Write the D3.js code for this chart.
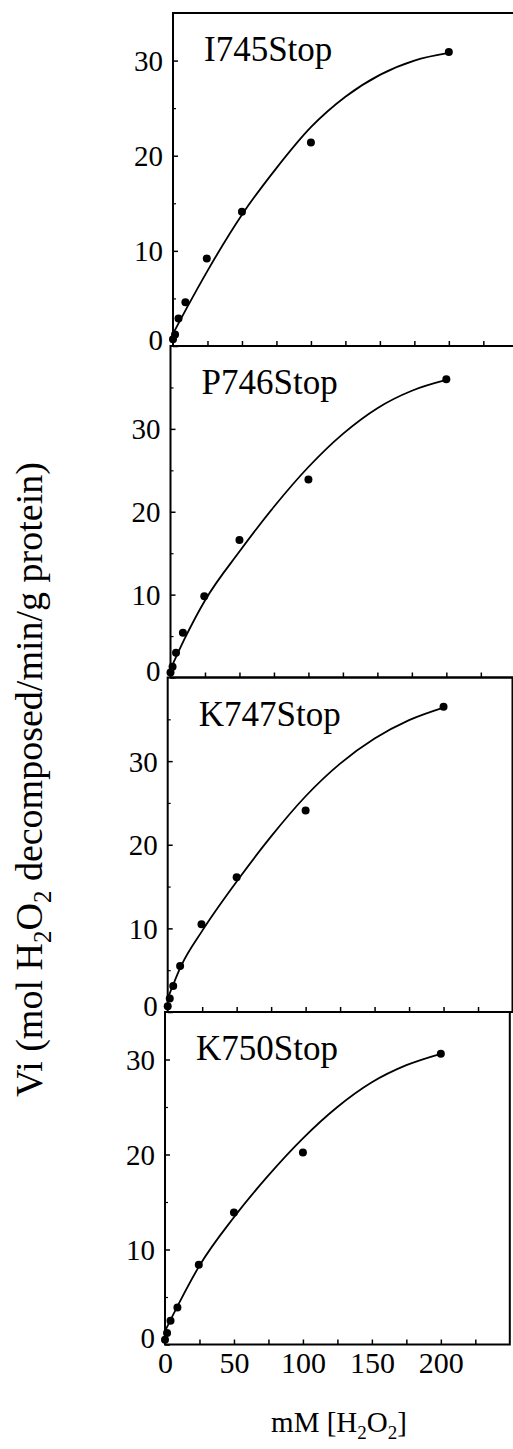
<!DOCTYPE html>
<html><head><meta charset="utf-8">
<script src="https://cdn.jsdelivr.net/npm/d3@7"></script>
<style>
body{margin:0;background:#fff}
svg{display:block}
text{font-family:"Liberation Serif","Times New Roman",Times,serif;fill:#000}
</style>
</head><body>
<svg id="chart" width="513" height="1449"></svg>
<script>
// ---- data ----
const panelNames = ["I745Stop", "P746Stop", "K747Stop", "K750Stop"];
const panelYMax = [35, 40, 40, 35];
const conc = [0, 1.5, 4, 9, 24.5, 50, 100, 200];          // mM H2O2
const vi1 = [0.7, 1.2, 2.9, 4.6, 9.2, 14.1, 21.4, 30.9];
const vi2 = [0.6, 1.3, 3.0, 5.4, 9.8, 16.6, 23.9, 36.0];
const vi3 = [0.7, 1.6, 3.1, 5.5, 10.5, 16.1, 24.1, 36.5];
const vi4 = [0.5, 1.2, 2.5, 3.9, 8.4, 13.9, 20.2, 30.6];
const fitX = [0, 10, 25, 50, 75, 100, 125, 150, 175, 200];
const fit1 = [1.3, 4.0, 7.9, 13.8, 18.7, 23.0, 26.2, 28.5, 30.0, 30.8];
const fit2 = [1.0, 4.6, 9.3, 15.2, 20.6, 25.4, 29.4, 32.5, 34.6, 35.9];
const fit3 = [1.6, 5.6, 9.7, 15.6, 21.0, 25.8, 29.7, 32.7, 34.9, 36.4];
const fit4 = [1.4, 4.3, 8.3, 13.4, 17.8, 21.7, 25.0, 27.6, 29.4, 30.6];
const yTickValues = [0, 10, 20, 30];
const xTickLabels = [0, 50, 100, 150, 200];
const xMinorTicks = [25, 50, 75, 100, 125, 150, 175, 200, 225];
const xDomain = [0, 250];

// ---- layout ----
const panelLefts = [173, 170.5, 167.7, 165];   // scanned figure is slightly skewed
const panelEdges = [13, 346, 677.5, 1012, 1344.5];
const plotW = 344.8;

const svg = d3.select("#chart");
svg.append("rect").attr("width", 513).attr("height", 1449).attr("fill", "#fff");

const series = [vi1, vi2, vi3, vi4];
const fits = [fit1, fit2, fit3, fit4];

panelNames.forEach((name, i) => {
  const left = panelLefts[i], top = panelEdges[i], bottom = panelEdges[i + 1];
  const x = d3.scaleLinear().domain(xDomain).range([left, left + plotW]);
  const y = d3.scaleLinear().domain([0, panelYMax[i]]).range([bottom, top]);
  const g = svg.append("g");

  // frame
  g.append("rect").attr("x", left).attr("y", top)
    .attr("width", plotW).attr("height", bottom - top)
    .attr("fill", "none").attr("stroke", "#000").attr("stroke-width", 2);

  // y axis major ticks + labels
  const ya = g.append("g").attr("transform", `translate(${left},0)`)
    .call(d3.axisLeft(y).tickValues(yTickValues).tickSize(-5).tickPadding(10));
  ya.select(".domain").remove();
  ya.selectAll("line").attr("stroke", "#000").attr("stroke-width", 1.5);
  ya.selectAll("text").attr("font-size", 29).attr("font-family", "Liberation Serif")
    .attr("dy", d => d === 0 ? "0.12em" : "0.34em");

  // y minor ticks
  const minorY = d3.range(5, panelYMax[i], 10);
  const ym = g.append("g").attr("transform", `translate(${left},0)`)
    .call(d3.axisLeft(y).tickValues(minorY).tickSize(-3).tickFormat(""));
  ym.select(".domain").remove();
  ym.selectAll("line").attr("stroke", "#000").attr("stroke-width", 1.2);

  // x ticks
  const xa = g.append("g").attr("transform", `translate(0,${bottom})`)
    .call(d3.axisBottom(x).tickValues(xMinorTicks).tickSize(-5).tickFormat(""));
  xa.select(".domain").remove();
  xa.selectAll("line").attr("stroke", "#000").attr("stroke-width", 1.5);

  if (i === panelNames.length - 1) {
    const xl = g.append("g").attr("transform", `translate(0,${bottom})`)
      .call(d3.axisBottom(x).tickValues(xTickLabels).tickSize(0).tickPadding(7));
    xl.select(".domain").remove();
    xl.selectAll("text").attr("font-size", 30).attr("font-family", "Liberation Serif");
  }

  // title
  g.append("text").attr("x", left + 31).attr("y", top + 48)
    .attr("font-size", 35).text(name);

  // fitted curve
  const line = d3.line().x((d, k) => x(fitX[k])).y(d => y(d)).curve(d3.curveMonotoneX);
  g.append("path").datum(fits[i]).attr("d", line)
    .attr("fill", "none").attr("stroke", "#000").attr("stroke-width", 1.8);

  // data points
  g.selectAll("circle.pt").data(series[i]).join("circle")
    .attr("class", "pt")
    .attr("cx", (d, k) => x(conc[k])).attr("cy", d => y(d))
    .attr("r", 4).attr("fill", "#000");
});

// axis titles
const yl = svg.append("text")
  .attr("transform", "translate(42,1097) rotate(-90)")
  .attr("text-anchor", "start").attr("font-size", 38);
yl.append("tspan").text("Vi (mol H");
yl.append("tspan").attr("font-size", 25).attr("dy", 9).text("2");
yl.append("tspan").attr("dy", -9).text("O");
yl.append("tspan").attr("font-size", 25).attr("dy", 9).text("2");
yl.append("tspan").attr("dy", -9).text(" decomposed/min/g protein)");

const xlab = svg.append("text")
  .attr("x", 339).attr("y", 1432)
  .attr("text-anchor", "middle").attr("font-size", 29);
xlab.append("tspan").text("mM [H");
xlab.append("tspan").attr("font-size", 19).attr("dy", 7).text("2");
xlab.append("tspan").attr("dy", -7).text("O");
xlab.append("tspan").attr("font-size", 19).attr("dy", 7).text("2");
xlab.append("tspan").attr("dy", -7).text("]");
</script>
</body></html>
